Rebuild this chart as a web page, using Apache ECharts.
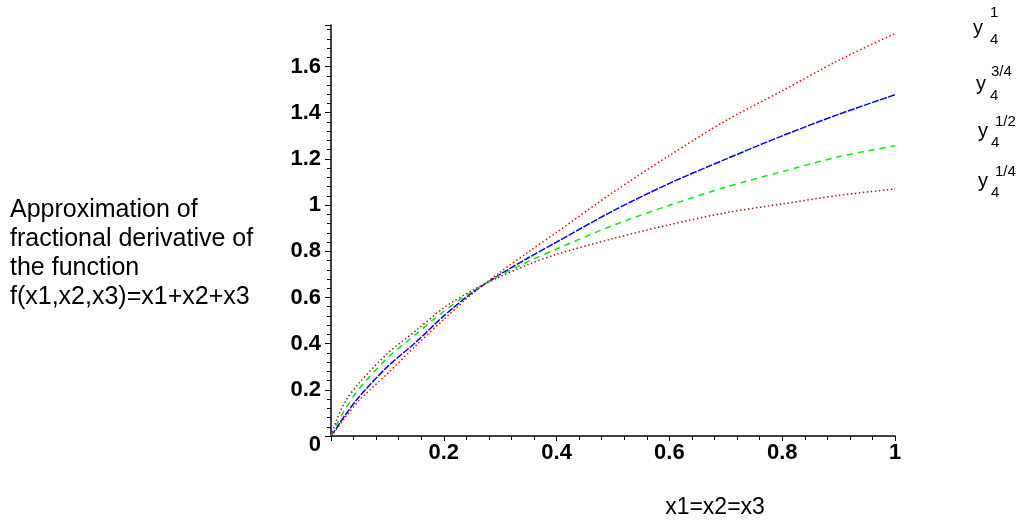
<!DOCTYPE html>
<html><head><meta charset="utf-8">
<script src="https://cdn.jsdelivr.net/npm/echarts@6/dist/echarts.min.js"></script>
<style>html,body{margin:0;padding:0;background:#fff}#c{width:1024px;height:528px}</style>
</head><body><div id="c"></div>
<script>
// x1 = x2 = x3 sample positions
const xValues = [0, 0.01, 0.025, 0.05, 0.1, 0.15, 0.2, 0.25, 0.3, 0.35, 0.4, 0.5, 0.6, 0.7, 0.8, 0.9, 1];
// y_4^1 (red dotted)
const yOrder1   = [0, 0.03, 0.08, 0.155, 0.27, 0.39, 0.505, 0.615, 0.71, 0.797, 0.882, 1.055, 1.215, 1.366, 1.495, 1.627, 1.743];
// y_4^{3/4} (blue)
const yOrder34  = [0, 0.035, 0.09, 0.17, 0.30, 0.405, 0.52, 0.62, 0.70, 0.772, 0.84, 0.975, 1.094, 1.199, 1.3, 1.393, 1.478];
// y_4^{1/2} (green dashed)
const yOrder12  = [0, 0.05, 0.115, 0.205, 0.338, 0.44, 0.54, 0.625, 0.696, 0.756, 0.81, 0.912, 0.999, 1.078, 1.145, 1.209, 1.257];
// y_4^{1/4} (brown dotted)
const yOrder14  = [0, 0.07, 0.148, 0.23, 0.357, 0.455, 0.555, 0.63, 0.69, 0.743, 0.787, 0.855, 0.915, 0.967, 1.005, 1.042, 1.07];
const seriesSup = ['1', '3/4', '1/2', '1/4'];
const yLabelLines = ['Approximation of', 'fractional derivative of', 'the function', 'f(x1,x2,x3)=x1+x2+x3'];
const xAxisTitle = 'x1=x2=x3';

const pairs = ys => xValues.map((x, i) => [x, ys[i]]);
const styles = [
  {color: '#ff0000', type: [1.5, 2.5]},
  {color: '#0000ff', type: [7, 1.5]},
  {color: '#00ee00', type: [6, 5]},
  {color: '#a01c1c', type: [1.5, 2.5]}
];
const data = [yOrder1, yOrder34, yOrder12, yOrder14];

const legendPos = [
  {yx: 973, yy: 28, sx: 990, sy: 40, px: 990, py: 13},
  {yx: 976, yy: 84, sx: 990, sy: 96, px: 991, py: 72},
  {yx: 978, yy: 131, sx: 991, sy: 143, px: 995, py: 122},
  {yx: 978, yy: 181, sx: 991, sy: 193, px: 995, py: 172}
];
const FONT = 'Liberation Sans, Arial, sans-serif';
const graphics = [];
legendPos.forEach((p, i) => {
  graphics.push({type: 'text', x: p.yx, y: p.yy, style: {text: 'y', fontSize: 20, fontFamily: FONT, fill: '#000', align: 'left', verticalAlign: 'middle'}});
  graphics.push({type: 'text', x: p.sx, y: p.sy, style: {text: '4', fontSize: 15, fontFamily: FONT, fill: '#000', align: 'left', verticalAlign: 'middle'}});
  graphics.push({type: 'text', x: p.px, y: p.py, style: {text: seriesSup[i], fontSize: 15, fontFamily: FONT, fill: '#000', align: 'left', verticalAlign: 'middle'}});
});
graphics.push({type: 'text', x: 10, y: 254, style: {text: yLabelLines.join('\n'), fontSize: 25, lineHeight: 29, fontFamily: FONT, fill: '#000', align: 'left', verticalAlign: 'middle'}});
graphics.push({type: 'text', x: 715, y: 508, style: {text: xAxisTitle, fontSize: 23, fontFamily: FONT, fill: '#000', align: 'center', verticalAlign: 'middle'}});

const chart = echarts.init(document.getElementById('c'), null, {renderer: 'canvas'});
chart.setOption({
  animation: false,
  backgroundColor: '#fff',
  grid: {left: 331, right: 129, top: 25, bottom: 92, containLabel: false, outerBoundsMode: 'none'},
  xAxis: {
    type: 'value', min: 0, max: 1, interval: 0.2,
    axisLine: {show: true, onZero: false, lineStyle: {color: '#000', width: 1.5}},
    axisTick: {show: true, length: 5, lineStyle: {color: '#000', width: 1}},
    minorTick: {show: true, splitNumber: 5, length: 4, lineStyle: {color: '#000', width: 1}},
    splitLine: {show: false}, minorSplitLine: {show: false},
    axisLabel: {formatter: v => (v === 0 ? '' : String(+v.toFixed(2))), color: '#000', fontWeight: 'bold', fontSize: 22, fontFamily: FONT, margin: 6}
  },
  yAxis: {
    type: 'value', min: 0, max: 1.78, interval: 0.2,
    axisLine: {show: true, onZero: false, lineStyle: {color: '#000', width: 1.5}},
    axisTick: {show: true, length: 6, lineStyle: {color: '#000', width: 1}},
    minorTick: {show: true, splitNumber: 5, length: 4, lineStyle: {color: '#000', width: 1}},
    splitLine: {show: false}, minorSplitLine: {show: false},
    axisLabel: {
      showMaxLabel: false, color: '#000', fontWeight: 'bold', fontSize: 22, fontFamily: FONT, margin: 10,
      formatter: v => (v === 0 ? '{z|0}' : String(+v.toFixed(2))),
      rich: {z: {padding: [18, 0, 0, 0], fontWeight: 'bold', fontSize: 22, fontFamily: FONT, color: '#000'}}
    }
  },
  series: data.map((ys, i) => ({
    type: 'line', data: pairs(ys), smooth: 0.3, showSymbol: false, symbol: 'none',
    lineStyle: {color: styles[i].color, width: 1.5, type: styles[i].type}
  })),
  graphic: graphics
});
</script></body></html>
